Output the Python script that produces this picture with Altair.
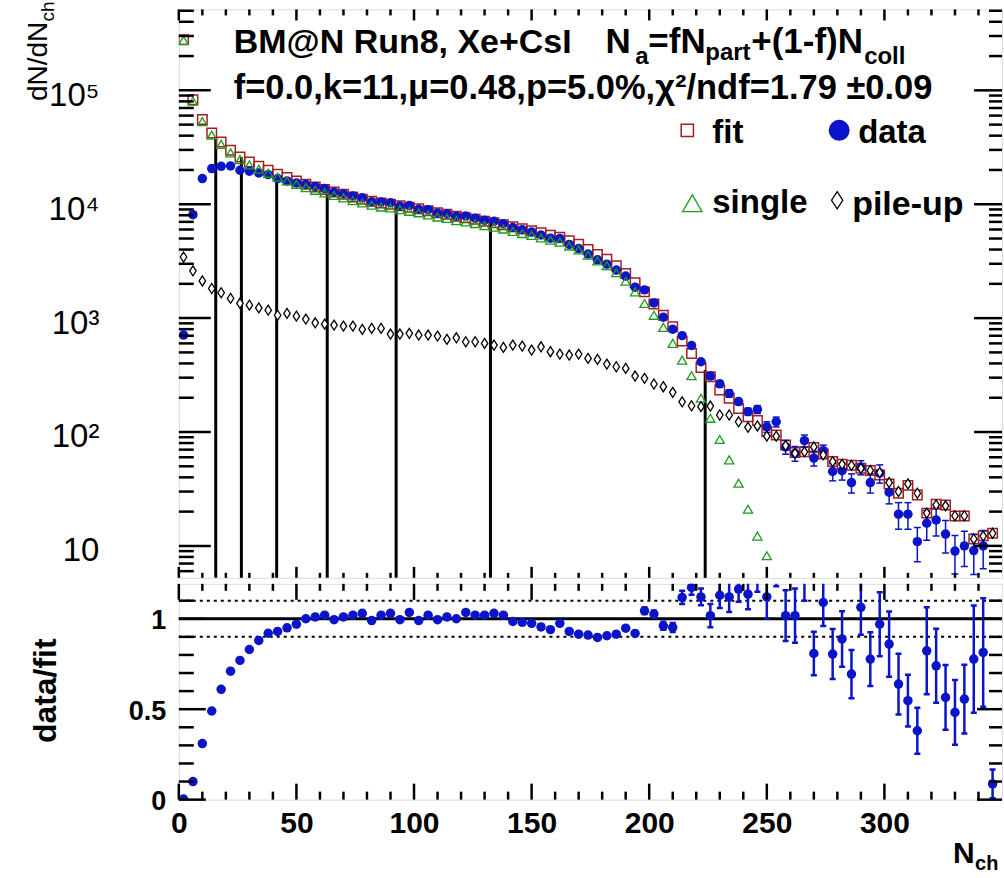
import altair as alt
import pandas as pd

FONT = "Liberation Sans"
RED = "#a31f1f"
BLUE = "#0b14c8"
GREEN = "#1f9a1f"

# ---------------- data ----------------
N_ch = list(range(2, 347, 4))

fit = [278400, 82860, 55340, 42220, 35200, 29770, 25990, 23500, 21540, 19880,
       18330, 17150, 16010, 14980, 14180, 13460, 12820, 12240, 11590, 11060,
       10620, 10260, 10000, 9700, 9410, 9130, 8770, 8420, 8170, 7850,
       7610, 7390, 7100, 6880, 6610, 6350, 6100, 5850, 5620, 5350,
       5130, 4770, 4460, 4010, 3620, 3290, 2880, 2470, 2040, 1700,
       1330, 1060, 839, 628, 490, 369, 306, 234, 198, 161,
       136, 126, 101, 94, 77, 66, 67, 73, 64, 55,
       52, 51, 48, 46, 42, 35, 29, 34, 28, 19.4,
       23.2, 22.9, 18.3, 18.3, 11.5, 12.3, 12.9]

data = [710, 8100, 16800, 20570, 21540, 21680, 19880, 19480, 18820, 18220,
        16800, 16010, 15380, 14980, 14320, 13730, 12760, 12360, 11820, 11390,
        10510, 10470, 10300, 9650, 9740, 9040, 8950, 8380, 8250, 7850,
        7880, 7540, 7240, 7090, 6740, 6250, 5980, 5700, 5370, 5030,
        5000, 4440, 4080, 3650, 3250, 2980, 2640, 2340, 1870, 1770,
        1360, 1020, 799, 702, 575, 414, 310, 265, 218, 185,
        151, 158, 111, 123, 74, 65, 84, 59, 68.5, 45,
        45.7, 36, 49, 36, 43.5, 29.6, 19, 19, 10.9, 15.8,
        16.9, 12.7, 9.0, 10, 9.1, 10, 1.1]

single = [274960, 80260, 53220, 40400, 33530, 28280, 24640, 22200, 20310, 18700,
          17270, 16050, 14970, 14000, 13270, 12575, 11950, 11390, 10740, 10260,
          9810, 9450, 9275, 8975, 8675, 8420, 8060, 7725, 7520, 7180,
          6990, 6770, 6500, 6300, 6057, 5770, 5530, 5326, 5060, 4843,
          4647, 4296, 3977, 3567, 3186, 2895, 2506, 2108, 1700, 1345,
          1060, 829, 600, 428, 312, 198, 132, 86, 57, 35.5,
          21, 12.2, 8.2, None, None, None, None, None, None, None,
          None, None, None, None, None, None, None, None, None, None,
          None, None, None, None, None, None, None]

pileup = [3440, 2600, 2120, 1820, 1670, 1490, 1350, 1300, 1230, 1175,
          1060, 1100, 1040, 980, 910, 885, 868, 851, 851, 796,
          812, 812, 725, 725, 735, 710, 710, 695, 650, 672,
          620, 620, 600, 580, 553, 580, 568, 524, 560, 507,
          483, 474, 483, 443, 434, 395, 374, 362, 310, 296,
          264, 250, 223, 184, 170, 167, 169, 141, 141, 123,
          110, 113, 92, 92, 76, 65, 67, 74, 63, 55,
          52, 51, 48, 46, 44, 36, 30, 35, 29, 19.4,
          22.9, 22.5, 18.4, 18.4, 11.5, 12.2, 12.9]

ratio = [0.003, 0.10, 0.31, 0.49, 0.61, 0.71, 0.77, 0.83, 0.88, 0.92,
         0.93, 0.95, 0.97, 1.0, 1.01, 1.02, 0.995, 1.01, 1.02, 1.03,
         0.99, 1.02, 1.03, 0.995, 1.035, 0.99, 1.02, 0.995, 1.01, 1.0,
         1.035, 1.02, 1.02, 1.03, 1.02, 0.985, 0.98, 0.975, 0.955, 0.94,
         0.975, 0.93, 0.915, 0.91, 0.897, 0.906, 0.915, 0.948, 0.919, 1.044,
         1.026, 0.961, 0.952, 1.118, 1.173, 1.121, 1.017, 1.13, 1.121, 1.164,
         1.136, 1.25, 1.121, 1.31, 1.017, 1.017, 1.25, 0.808, 1.09, 0.805,
         0.888, 0.694, 1.063, 0.777, 0.97, 0.86, 0.639, 0.547, 0.381, 0.823,
         0.74, 0.565, 0.482, 0.556, 0.777, 0.814, 0.087]

ratio_err = [0.004, 0.004, 0.004, 0.004, 0.004, 0.004, 0.004, 0.004, 0.004, 0.004,
             0.004, 0.004, 0.004, 0.004, 0.004, 0.004, 0.004, 0.004, 0.004, 0.004,
             0.004, 0.004, 0.004, 0.004, 0.004, 0.004, 0.004, 0.004, 0.004, 0.004,
             0.004, 0.004, 0.004, 0.004, 0.004, 0.004, 0.004, 0.004, 0.004, 0.004,
             0.004, 0.004, 0.004, 0.006, 0.007, 0.008, 0.009, 0.010, 0.012, 0.018,
             0.020, 0.022, 0.025, 0.037, 0.040, 0.046, 0.064, 0.070, 0.083, 0.070,
             0.083, 0.100, 0.120, 0.130, 0.140, 0.150, 0.150, 0.120, 0.130, 0.138,
             0.153, 0.133, 0.151, 0.149, 0.177, 0.180, 0.168, 0.143, 0.127, 0.240,
             0.205, 0.179, 0.179, 0.190, 0.297, 0.300, 0.080]

bound_N = [15.7, 26.6, 41.6, 63.1, 92.4, 132.5, 223.8]
bound_top = [38000, 25800, 18000, 13300, 9750, 7050, 350]

y_major = [10, 100, 1000, 10000, 100000]
y_minor = [6, 7, 8, 9, 20, 30, 40, 50, 60, 70, 80, 90,
           200, 300, 400, 500, 600, 700, 800, 900,
           2000, 3000, 4000, 5000, 6000, 7000, 8000, 9000,
           20000, 30000, 40000, 50000, 60000, 70000, 80000, 90000,
           200000, 300000, 400000, 500000]
x_major = [0, 50, 100, 150, 200, 250, 300]
x_minor = [10, 20, 30, 40, 60, 70, 80, 90, 110, 120, 130, 140, 160, 170, 180, 190,
           210, 220, 230, 240, 260, 270, 280, 290, 310, 320, 330, 340]
r_major = [0, 0.5, 1]
r_minor = [0.1, 0.2, 0.3, 0.4, 0.6, 0.7, 0.8, 0.9, 1.1]
r_lines_dotted = [0.9, 1.1]
r_line_solid = [1.0]

# ---------------- geometry ----------------
W, H1, H2 = 824, 569, 216
X_DOM = [0, 350]
Y_DOM = [5.24, 513500]
R_DOM = [0, 1.193]

y_axis_upper = alt.Axis(
    values=y_major,
    labelExpr="datum.value == 10 ? '10' : datum.value == 100 ? '10\u00b2' : datum.value == 1000 ? '10\u00b3' : datum.value == 10000 ? '10\u2074' : '10\u2075'",
    labelFont=FONT, labelFontSize=33, labelFontWeight="normal", labelColor="black",
    labelPadding=80, labelOffset=5, ticks=False, tickSize=0, domain=False, grid=False, title=None)

x_axis_lower = alt.Axis(values=x_major, labelFont=FONT, labelFontSize=30, labelFontWeight="bold",
                        labelColor="black", labelPadding=9, labelFlush=False, labelOverlap=False,
                        ticks=False, tickSize=0, domain=False, grid=False, title=None)

r_axis = alt.Axis(values=r_major,
                  labelExpr="datum.value == 0 ? '0' : datum.value == 0.5 ? '0.5' : '1'",
                  labelFont=FONT, labelFontSize=27, labelFontWeight="bold", labelColor="black",
                  labelPadding=13, labelOffset=2, labelFlush=False, labelOverlap=False,
                  ticks=False, tickSize=0, domain=False, grid=False, title=None)


def XU(field="N"):
    return alt.X(f"{field}:Q", scale=alt.Scale(domain=X_DOM, nice=False, zero=False), axis=None)


def XL(field="N"):
    return alt.X(f"{field}:Q", scale=alt.Scale(domain=X_DOM, nice=False, zero=False), axis=x_axis_lower)


def YE(field):
    return alt.Y(f"{field}:Q", scale=alt.Scale(type="log", domain=Y_DOM, nice=False), axis=y_axis_upper)


def RE(field):
    return alt.Y(f"{field}:Q", scale=alt.Scale(domain=R_DOM, nice=False, zero=False), axis=r_axis)


def txt(s, x, y, size, weight="bold", angle=0, align="left", baseline="alphabetic"):
    return alt.Chart(pd.DataFrame({"t": [s]})).mark_text(
        align=align, baseline=baseline, fontSize=size, fontWeight=weight,
        angle=angle, font=FONT, color="black"
    ).encode(x=alt.value(x), y=alt.value(y), text="t:N")


def yticks(vals, x0, x1, enc):
    return alt.Chart(pd.DataFrame({"v": vals})).mark_rule(color="black", strokeWidth=2.5).encode(
        y=enc("v"), x=alt.value(x0), x2=alt.value(x1))


def xticks(vals, y0, y1, enc):
    return alt.Chart(pd.DataFrame({"v": vals})).mark_rule(color="black", strokeWidth=2.5).encode(
        x=enc("v"), y=alt.value(y0), y2=alt.value(y1))


DIAMOND = "M0,-1L0.65,0L0,1L-0.65,0Z"

df = pd.DataFrame({"N": N_ch, "fit": fit, "data": data, "single": single,
                   "pileup": pileup, "ratio": ratio, "rerr": ratio_err})
df["rlo"] = df["ratio"] - df["rerr"]
df["rhi"] = df["ratio"] + df["rerr"]
err_df = df[df["N"] >= 198].copy()
rel = err_df["rerr"] / err_df["ratio"]
err_df["dlo"] = err_df["data"] * (1 - rel)
err_df["dhi"] = err_df["data"] * (1 + rel)

bounds_df = pd.DataFrame({"N": bound_N, "top": bound_top})

# ---------------- upper panel ----------------
lines = alt.Chart(bounds_df).mark_rule(color="black", strokeWidth=3).encode(
    x=XU("N"), y=YE("top"), y2=alt.value(H1))

fit_pts = alt.Chart(df).mark_point(shape="square", filled=False, color=RED, size=90,
                                   strokeWidth=1.5, opacity=1, clip=True).encode(
    x=XU("N"), y=YE("fit"))

derr = alt.Chart(err_df).mark_rule(color=BLUE, strokeWidth=1.5, clip=True).encode(
    x=XU("N"), y=YE("dlo"), y2="dhi:Q")
dcap_lo = alt.Chart(err_df).mark_tick(orient="horizontal", color=BLUE, size=7, thickness=1.5,
                                      opacity=1, clip=True).encode(x=XU("N"), y=YE("dlo"))
dcap_hi = alt.Chart(err_df).mark_tick(orient="horizontal", color=BLUE, size=7, thickness=1.5,
                                      opacity=1, clip=True).encode(x=XU("N"), y=YE("dhi"))
data_pts = alt.Chart(df).mark_circle(color=BLUE, size=90, opacity=1, clip=True).encode(
    x=XU("N"), y=YE("data"))

single_pts = alt.Chart(df).mark_point(shape="triangle-up", filled=False, color=GREEN, size=85,
                                      strokeWidth=1.3, opacity=1, clip=True).encode(
    x=XU("N"), y=YE("single"))

pile_pts = alt.Chart(df).mark_point(shape=DIAMOND, filled=True, fill="white", stroke="black",
                                    size=100, strokeWidth=1.3, opacity=1, clip=True).encode(
    x=XU("N"), y=YE("pileup"))

upper_ticks = [
    yticks(y_major, 0, 32, YE), yticks(y_minor, 0, 15, YE),
    yticks(y_major, W, W - 28, YE), yticks(y_minor, W, W - 13, YE),
    xticks(x_major, H1, H1 - 11, XU), xticks(x_minor, H1, H1 - 5, XU),
    xticks(x_major, 0, 11, XU), xticks(x_minor, 0, 6, XU),
]

leg = [
    alt.Chart(pd.DataFrame({"s": ["fit"]})).mark_point(shape="square", filled=False, color=RED, size=150,
                                                       strokeWidth=1.5, opacity=1).encode(
        x=alt.value(509), y=alt.value(121)),
    txt("fit", 534, 134, 33),
    alt.Chart(pd.DataFrame({"s": ["data"]})).mark_circle(color=BLUE, size=440, opacity=1).encode(
        x=alt.value(661), y=alt.value(121)),
    txt("data", 680, 134, 33),
    alt.Chart(pd.DataFrame({"s": ["single"]})).mark_point(shape="triangle-up", filled=False, color=GREEN,
                                                          size=380, strokeWidth=1.3, opacity=1).encode(
        x=alt.value(514), y=alt.value(194)),
    txt("single", 534, 204, 33),
    alt.Chart(pd.DataFrame({"s": ["pile-up"]})).mark_point(shape=DIAMOND, filled=True, fill="white",
                                                           stroke="black", size=300, strokeWidth=1.3,
                                                           opacity=1).encode(
        x=alt.value(659), y=alt.value(191)),
    txt("pile-up", 674, 206, 34),
]

header = [
    txt("BM@N Run8, Xe+CsI", 55, 44, 34),
    txt("N", 427, 44, 35),
    txt("a", 457, 55, 24),
    txt("=fN", 470, 44, 35),
    txt("part", 527, 51, 24),
    txt("+(1-f)N", 573, 44, 35),
    txt("coll", 686, 55, 24),
    txt("f=0.0,k=11,\u03bc=0.48,p=5.0%,\u03c7\u00b2/ndf=1.79 \u00b10.09", 55, 90, 34.5),
]

ytitle = [
    txt("dN/dN", -140, 52, 28, weight="normal", angle=270, align="center", baseline="middle"),
    txt("ch", -131, 2, 19, weight="normal", angle=270, align="center", baseline="middle"),
]

anchor = alt.Chart(pd.DataFrame({"a": [0]})).mark_rule(color="white", strokeWidth=1).encode(
    x=alt.value(-178), x2=alt.value(-177), y=alt.value(300))

upper = alt.layer(
    lines, fit_pts, derr, dcap_lo, dcap_hi, data_pts, single_pts, pile_pts,
    *upper_ticks, *leg, *header, *ytitle, anchor
).properties(width=W, height=H1)

# ---------------- lower panel ----------------
solid = alt.Chart(pd.DataFrame({"r": r_line_solid})).mark_rule(color="black", strokeWidth=3).encode(
    y=RE("r"), x=alt.value(0), x2=alt.value(W))
dotted = alt.Chart(pd.DataFrame({"r": r_lines_dotted})).mark_rule(
    color="black", strokeWidth=2, strokeDash=[3, 4]).encode(
    y=RE("r"), x=alt.value(0), x2=alt.value(W))

rerr_rule = alt.Chart(df).mark_rule(color=BLUE, strokeWidth=2.5, clip=True).encode(
    x=XL("N"), y=RE("rlo"), y2="rhi:Q")
rcap_lo = alt.Chart(df).mark_tick(orient="horizontal", color=BLUE, size=6, thickness=2.5,
                                  opacity=1, clip=True).encode(x=XL("N"), y=RE("rlo"))
rcap_hi = alt.Chart(df).mark_tick(orient="horizontal", color=BLUE, size=6, thickness=2.5,
                                  opacity=1, clip=True).encode(x=XL("N"), y=RE("rhi"))
ratio_pts = alt.Chart(df).mark_circle(color=BLUE, size=90, opacity=1, clip=True).encode(
    x=XL("N"), y=RE("ratio"))

lower_ticks = [
    yticks(r_major, 0, 27, RE), yticks(r_minor, 0, 15, RE),
    yticks(r_major, W, W - 25, RE), yticks(r_minor, W, W - 13, RE),
    xticks(x_major, H2, H2 - 16, XL), xticks(x_minor, H2, H2 - 8, XL),
    xticks(x_major, 0, 16, XL), xticks(x_minor, 0, 7, XL),
]

lower_text = [
    txt("data/fit", -133, 107, 32, angle=270, align="center", baseline="middle"),
    txt("N", 775, 279, 30),
    txt("ch", 797, 286, 20),
]

lower = alt.layer(
    dotted, solid, rerr_rule, rcap_lo, rcap_hi, ratio_pts, *lower_ticks, *lower_text
).properties(width=W, height=H2)

chart = alt.vconcat(upper, lower, spacing=6, bounds="flush").properties(
    padding={"left": 0, "top": 0, "right": 0, "bottom": 0}
).configure_view(stroke="black", strokeWidth=2.5).configure(background="white", font=FONT)

chart.save("out.html", embed_options={"renderer": "svg", "actions": False})
